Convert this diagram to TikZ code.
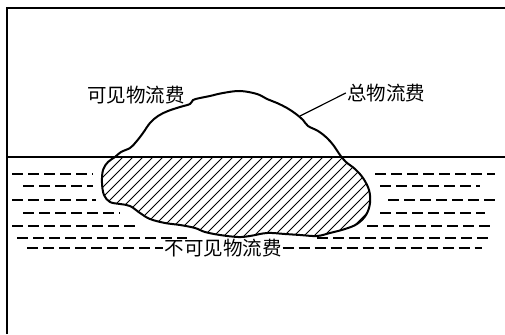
\documentclass[tikz,border=0pt]{standalone}
\usepackage{fontspec}
\newfontfamily\cjk{Noto Sans CJK SC}
\tikzset{
  frameline/.style = {line width=2.2pt},
  waterdash/.style = {line width=1.6pt, dash pattern=on 11pt off 5pt},
  hatchline/.style = {line width=0.9pt},
  label/.style = {font=\cjk\fontsize{19.5}{19.5}\selectfont, inner sep=1pt}
}
\begin{document}
\begin{tikzpicture}[x=1pt,y=-1pt]
\useasboundingbox (0,0) rectangle (505,334);

\draw[frameline] (7,334) -- (7,8) -- (505,8) ;
\draw[frameline] (7,157) -- (505,157) ;

\begin{scope}
\clip (0,157) rectangle (505,334);
\clip plot[smooth cycle, tension=0.6] coordinates {
  (115,157) (121,152) (130,148) (136,142) (143,133) (150,123) (158,116)
  (168,111) (180,107) (190,104) (193,100) (200,98) (210,96) (223,93)
  (240,91) (257,94) (267,99) (277,103) (287,108) (296,114) (303,120)
  (308,126) (318,131) (327,138) (334,146) (340,155)
  (346,162) (355,169) (363,178) (369,190) (370,203) (366,215) (357,224)
  (345,229) (330,233) (317,236) (300,235) (285,234) (267,233) (250,236)
  (238,237) (220,235) (205,232) (195,228) (180,225) (165,223) (150,219)
  (140,213) (130,206) (120,204) (110,202) (104,195) (102,183) (103,170)
  (108,162)};
\foreach \x in {0,10,...,400}
  \draw[hatchline] (\x,250) -- (\x+100,150) ;
\end{scope}

\draw[line width=2pt] plot[smooth cycle, tension=0.6] coordinates {
  (115,157) (121,152) (130,148) (136,142) (143,133) (150,123) (158,116)
  (168,111) (180,107) (190,104) (193,100) (200,98) (210,96) (223,93)
  (240,91) (257,94) (267,99) (277,103) (287,108) (296,114) (303,120)
  (308,126) (318,131) (327,138) (334,146) (340,155)
  (346,162) (355,169) (363,178) (369,190) (370,203) (366,215) (357,224)
  (345,229) (330,233) (317,236) (300,235) (285,234) (267,233) (250,236)
  (238,237) (220,235) (205,232) (195,228) (180,225) (165,223) (150,219)
  (140,213) (130,206) (120,204) (110,202) (104,195) (102,183) (103,170)
  (108,162)};

\foreach \y/\a/\b in {174/12/93, 186/23/93, 200/12/96, 213/23/120, 226/12/135, 238/17/187}
  \draw[waterdash] (\a,\y) -- (\b,\y) ;
\foreach \y/\a/\b in {174/375/495, 186/380/480, 200/388/495, 213/380/485, 226/367/495, 238/317/490}
  \draw[waterdash] (\a,\y) -- (\b,\y) ;

\node[label] (kejian) at (136,95) {可见物流费};
\node[label] (zong) at (386,93) {总物流费};
\node[label] (bukejian) at (223,248) {不可见物流费};

\coordinate (zongtip) at (300,116);
\draw[line width=1.2pt] (zong.west) -- (zongtip) ;

\coordinate (leftend) at (27,248);
\coordinate (rightend) at (482,248);
\draw[waterdash] (leftend) -- (bukejian.west) ;
\draw[waterdash] (bukejian.east) -- (rightend) ;
\end{tikzpicture}
\end{document}
